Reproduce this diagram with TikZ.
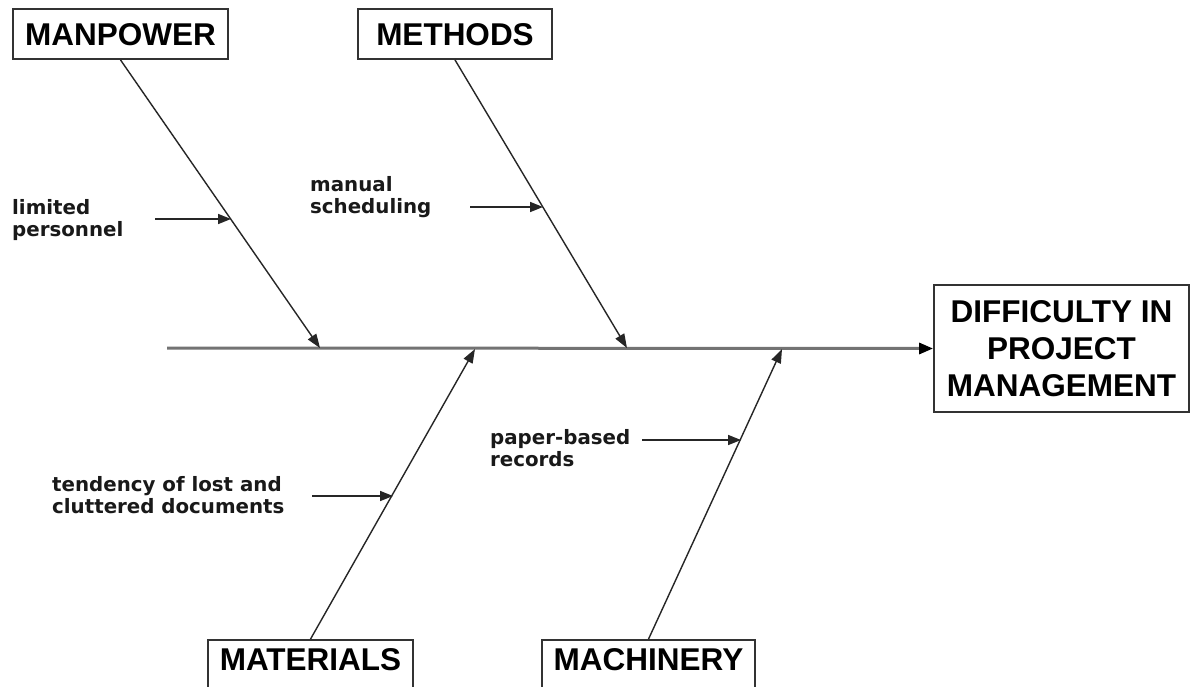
\documentclass[tikz,border=0pt]{standalone}
\usepackage{fontspec}
\setmainfont{Liberation Sans}
\newfontfamily\lblfont{DejaVu Sans}
\usetikzlibrary{arrows.meta}
\begin{document}
\begin{tikzpicture}[x=1pt,y=-1pt,
  catbox/.style={draw=black!80, line width=1.8pt, inner sep=0pt},
  cattext/.style={font=\fontsize{31.5}{37}\selectfont\bfseries, inner sep=0pt, text height=22.5pt, text depth=0pt},
  causetext/.style={font=\lblfont\bfseries\fontsize{19.8}{22.5}\selectfont, align=left, inner sep=0pt, anchor=west, text=black!90},
  bone/.style={line width=1.4pt, draw=black!85, -{Triangle[length=14pt,width=10pt]}},
  subarrow/.style={line width=1.6pt, draw=black!85, -{Triangle[length=13pt,width=10pt]}},
  spine/.style={line width=3pt, draw=black!55, -{Triangle[length=14pt,width=11pt,color=black]}}]
\fill[white] (0,0) rectangle (1191,686);
\useasboundingbox (0,0) rectangle (1191,686);

% category boxes
\node[catbox, cattext, minimum width=215pt, minimum height=50pt] (mp) at (120.5,34) {MANPOWER};
\node[catbox, cattext, minimum width=194pt, minimum height=50pt] (mt) at (455,34) {METHODS};
\node[catbox, minimum width=205pt, minimum height=52pt] (matbox) at (310.5,666) {};
\node[cattext] (mat) at (310.5,659) {MATERIALS};
\node[catbox, minimum width=213pt, minimum height=52pt] (macbox) at (648.5,666) {};
\node[cattext] (mac) at (648.5,659) {MACHINERY};

% effect
\node[catbox, font=\fontsize{31.5}{37}\selectfont\bfseries, align=center, minimum width=255pt, minimum height=127pt] (eff) at (1061.5,348.5) {DIFFICULTY IN\\PROJECT\\MANAGEMENT};

% spine
\coordinate (sstart) at (167,348);
\draw[spine] (sstart) -- (eff.west);

% spine junctions
\coordinate (jmp) at (320,348);
\coordinate (jmt) at (627,348);
\coordinate (jmat) at (475,349);
\coordinate (jmac) at (782,349);

\draw[bone] (mp.south) -- (jmp);
\draw[bone] (mt.south) -- (jmt);
\draw[bone] (matbox.north) -- (jmat);
\draw[bone] (macbox.north) -- (jmac);

% causes
\node[causetext] (c1) at (12,220) {limited\\personnel};
\node[causetext] (c2) at (310,197) {manual\\scheduling};
\node[causetext] (c3) at (52,495) {tendency of lost and\\cluttered documents};
\node[causetext] (c4) at (490,448) {paper-based\\records};

\coordinate (a1s) at (155,219);
\coordinate (a1e) at (231,219);
\coordinate (a2s) at (470,207);
\coordinate (a2e) at (543,207);
\coordinate (a3s) at (312,496);
\coordinate (a3e) at (393,496);
\coordinate (a4s) at (642,440);
\coordinate (a4e) at (741,440);
\draw[subarrow] (a1s) -- (a1e);
\draw[subarrow] (a2s) -- (a2e);
\draw[subarrow] (a3s) -- (a3e);
\draw[subarrow] (a4s) -- (a4e);
\end{tikzpicture}
\end{document}
